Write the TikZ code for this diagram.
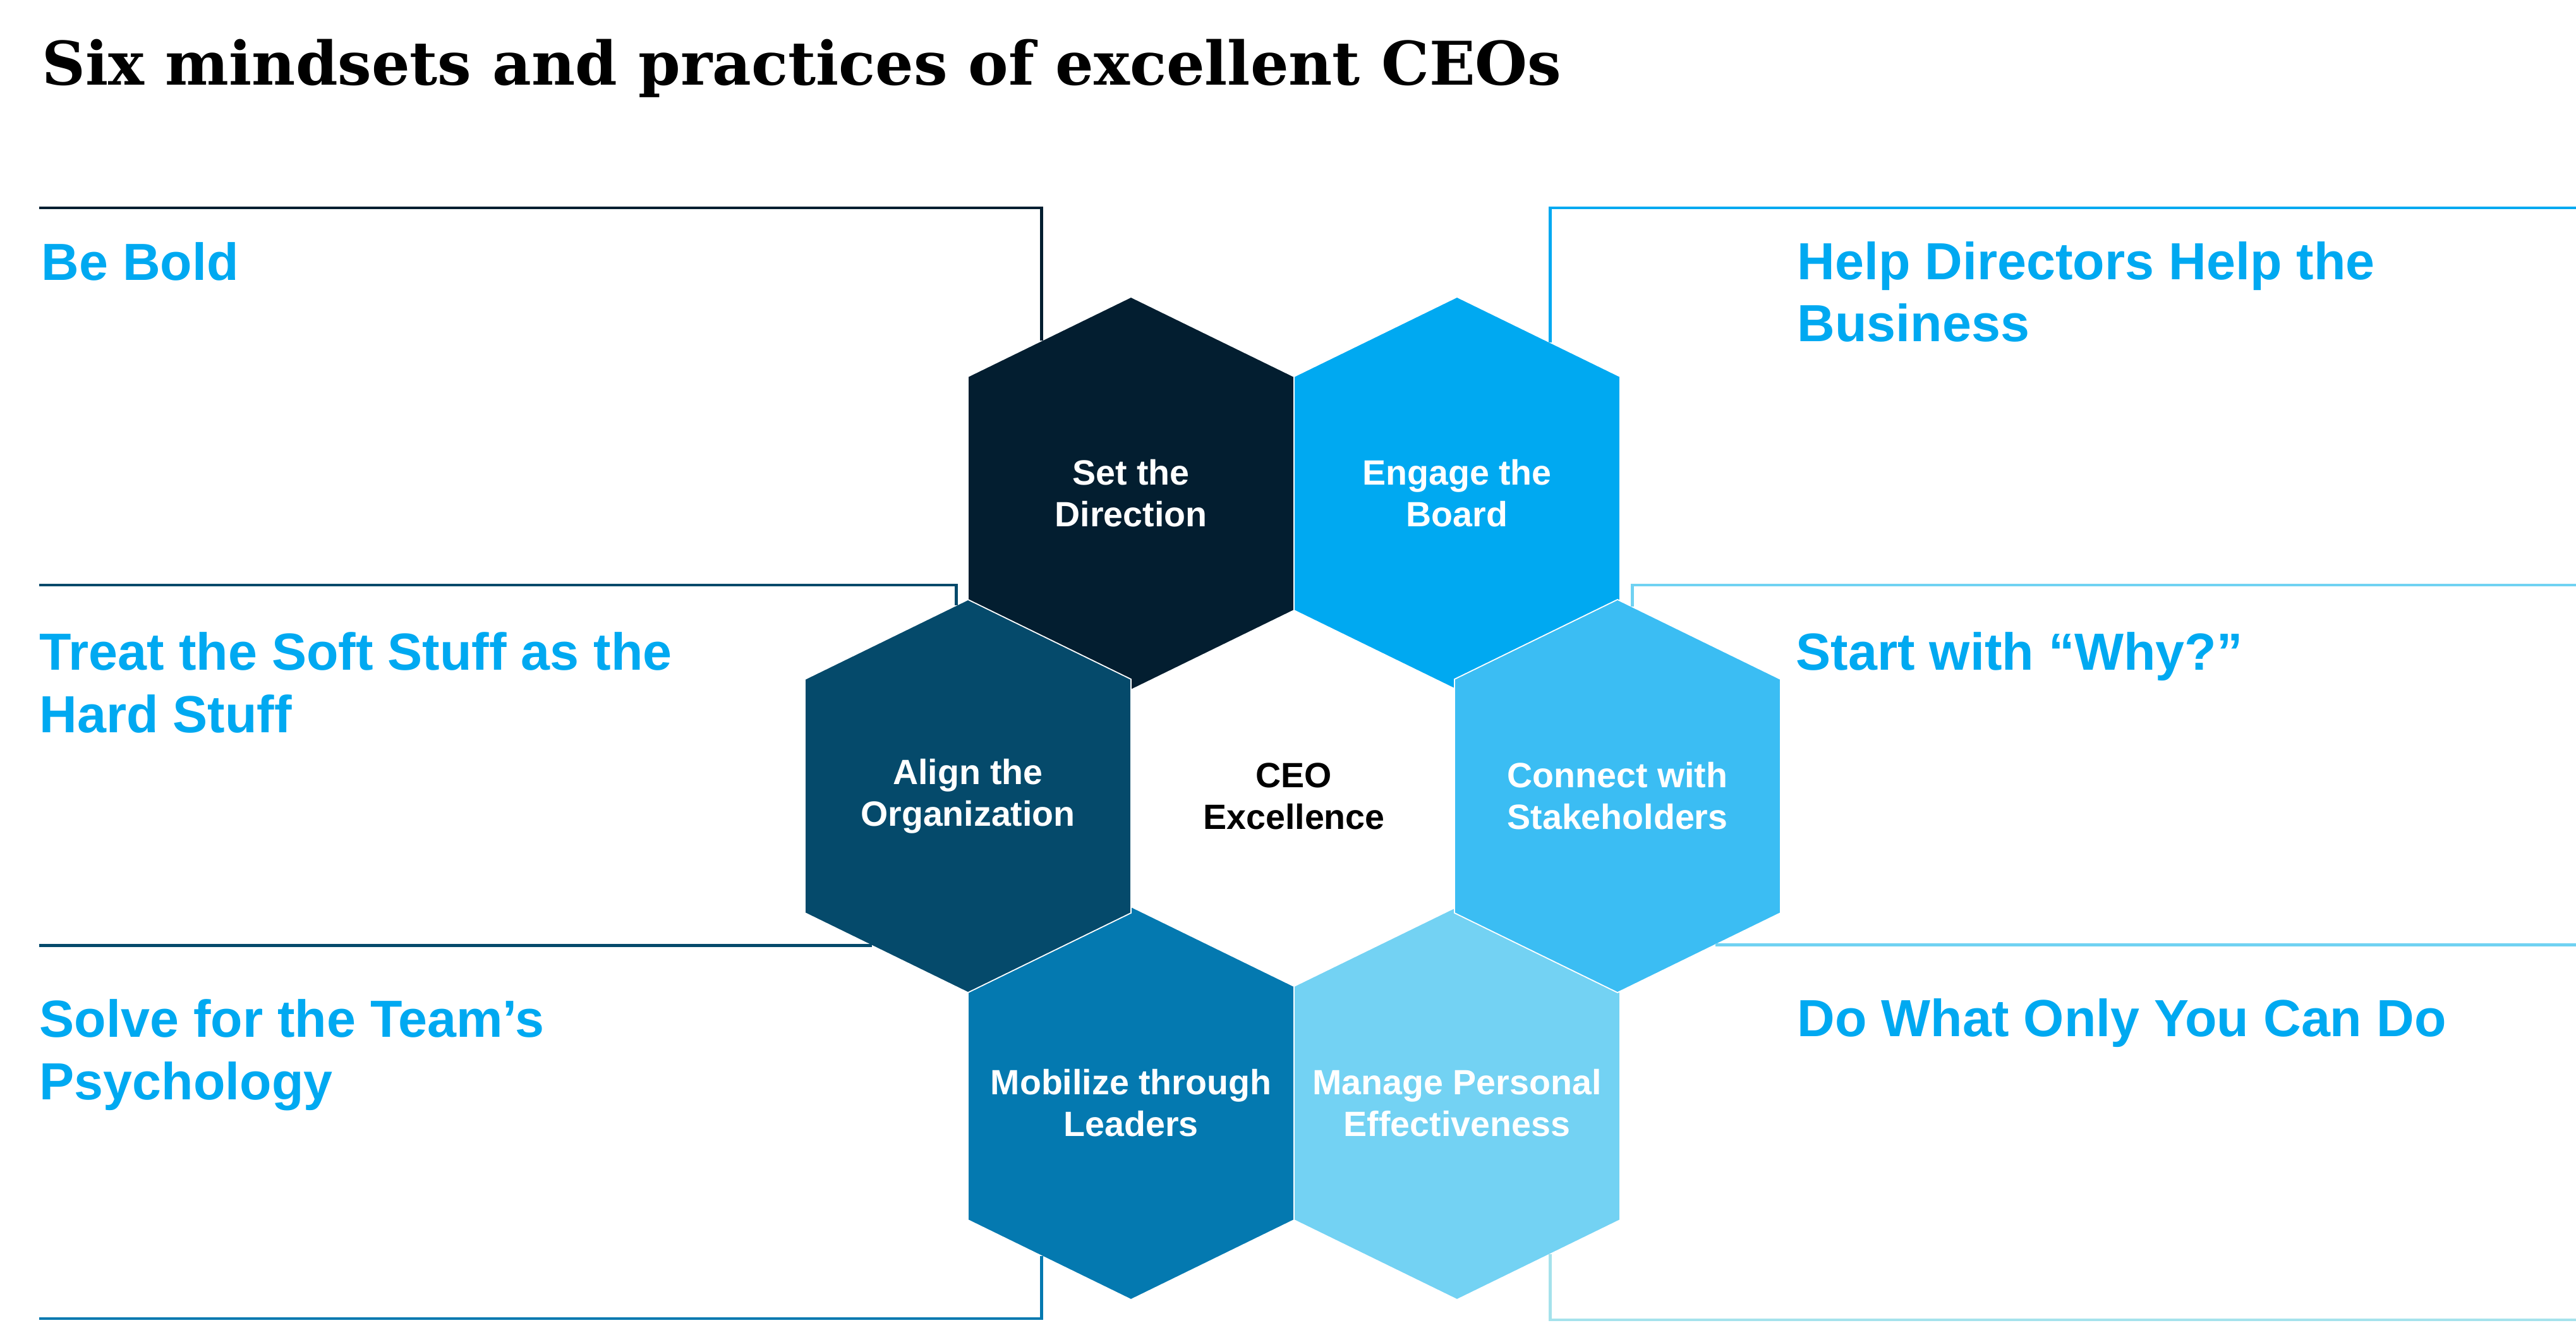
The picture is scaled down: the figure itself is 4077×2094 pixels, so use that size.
\documentclass[tikz,border=0pt]{standalone}
\usepackage{fontspec}
\setmainfont{Liberation Sans}
\newfontfamily\headfont{DejaVu Serif}
\usetikzlibrary{calc}
\definecolor{setcol}{RGB}{3,30,48}
\definecolor{boardcol}{RGB}{0,169,241}
\definecolor{aligncol}{RGB}{5,74,107}
\definecolor{stakecol}{RGB}{59,189,243}
\definecolor{mobcol}{RGB}{4,121,176}
\definecolor{managecol}{RGB}{115,210,243}
\definecolor{labelcol}{RGB}{0,169,241}
\definecolor{stakeline}{RGB}{112,210,242}
\definecolor{manageline}{RGB}{165,226,236}
\tikzset{
  hexlabel/.style = {font=\bfseries\fontsize{15.8}{18.8}\selectfont, text=white,
                     align=center, inner sep=0pt},
  practice/.style = {font=\bfseries\fontsize{23.5}{27.9}\selectfont, text=labelcol,
                     align=left, anchor=base west, inner sep=0pt},
  bracket/.style  = {line width=1.4pt},
}

\begin{document}
\begin{tikzpicture}[x=0.01cm, y=-0.01cm]
  \path[use as bounding box, fill=white] (0,0) rectangle (4077,2094);

  % title
  \node[anchor=base west, inner sep=0pt, font=\headfont\bfseries\fontsize{27.1}{32}\selectfont]
    (title) at (66,135) {Six mindsets and practices of excellent CEOs};

  % honeycomb
  \foreach \n/\x/\y/\c/\t in {
      set/1790/781/setcol/{Set the\\Direction},
      board/2306/781/boardcol/{Engage the\\Board},
      mob/1790/1746/mobcol/{Mobilize through\\Leaders},
      manage/2306/1746/managecol/{Manage Personal\\Effectiveness},
      align/1532/1260/aligncol/{Align the\\Organization},
      stake/2560/1260/stakecol/{Connect with\\Stakeholders}} {
    \fill[\c, draw=white, line width=0.5pt] (\x,\y) ++(0,-311) coordinate (\n-n)
      -- ++(258,126) coordinate (\n-ne) -- ++(0,370) coordinate (\n-se)
      -- ++(-258,126) coordinate (\n-s) -- ++(-258,-126) coordinate (\n-sw)
      -- ++(0,-370) coordinate (\n-nw) -- cycle;
    \node[hexlabel] (\n) at (\x,\y) {\t};
  }
  \node[hexlabel, text=black] (ceo) at (2048,1260) {CEO\\Excellence};

  % practices (anchor = baseline of last line)
  \node[practice] (bold)  at (65,443)    {Be Bold};
  \node[practice] (help)  at (2844,541)  {Help Directors Help the\\Business};
  \node[practice] (treat) at (62,1159)   {Treat the Soft Stuff as the\\Hard Stuff};
  \node[practice] (why)   at (2842,1060) {Start with “Why?”};
  \node[practice] (solve) at (62,1740)   {Solve for the Team’s\\Psychology};
  \node[practice] (only)  at (2844,1640) {Do What Only You Can Do};

  % brackets
  \coordinate (leftedge)  at (62,0);
  \coordinate (rightedge) at (4077,0);
  \coordinate (set-cut)    at ($(set-nw)!0.45!(set-n)$);
  \coordinate (board-cut)  at ($(board-n)!0.57!(board-ne)$);
  \coordinate (align-top)  at ($(align-n)!0.07!(align-nw)$);
  \coordinate (align-low)  at ($(align-sw)!0.41!(align-s)$);
  \coordinate (stake-top)  at ($(stake-n)!0.09!(stake-ne)$);
  \coordinate (stake-low)  at ($(stake-se)!0.4!(stake-s)$);
  \coordinate (mob-cut)    at ($(mob-sw)!0.45!(mob-s)$);
  \coordinate (manage-cut) at ($(manage-s)!0.57!(manage-se)$);

  \draw[bracket, setcol] (set-cut) |- (leftedge |- 0,329);
  \draw[bracket, boardcol] (board-cut) |- (rightedge |- 0,329);
  \draw[bracket, aligncol] (align-top) |- (leftedge |- 0,926);
  \draw[bracket, aligncol] (align-low) -- (align-low -| leftedge);
  \draw[bracket, mobcol] (mob-cut) |- (leftedge |- 0,2087);
  \draw[bracket, stakeline] (stake-top) |- (rightedge |- 0,926);
  \draw[bracket, stakeline] (stake-low) -- (stake-low -| rightedge);
  \draw[bracket, manageline] (manage-cut) |- (rightedge |- 0,2089);
\end{tikzpicture}
\end{document}
